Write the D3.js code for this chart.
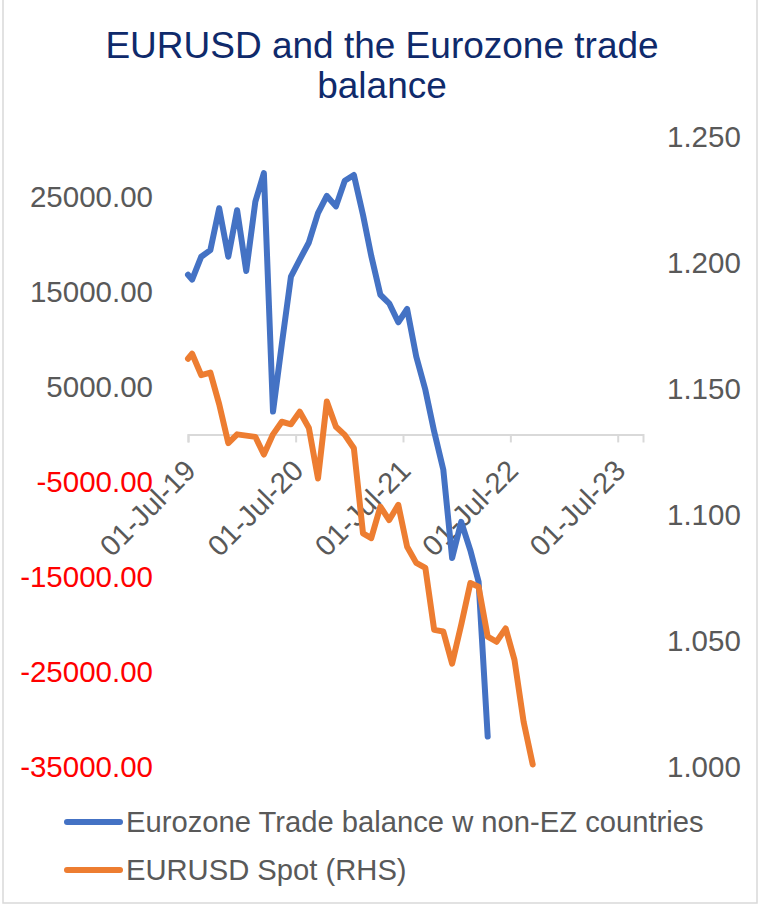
<!DOCTYPE html>
<html>
<head>
<meta charset="utf-8">
<script src="https://cdn.jsdelivr.net/npm/d3@7"></script>
<style>
  body { margin: 0; background: #fff; }
  svg { display: block; font-family: "Liberation Sans", Arial, sans-serif; }
</style>
</head>
<body>
<div id="chart"></div>
<script>
// dates of the observations (mid-month releases)
const dates = [
  "2019-07-01", "2019-07-15", "2019-08-15", "2019-09-15", "2019-10-15", "2019-11-15", "2019-12-15",
  "2020-01-15", "2020-02-15", "2020-03-15", "2020-04-15", "2020-05-15", "2020-06-15",
  "2020-07-15", "2020-08-15", "2020-09-15", "2020-10-15", "2020-11-15", "2020-12-15",
  "2021-01-15", "2021-02-15", "2021-03-15", "2021-04-15", "2021-05-15", "2021-06-15",
  "2021-07-15", "2021-08-15", "2021-09-15", "2021-10-15", "2021-11-15", "2021-12-15",
  "2022-01-15", "2022-02-15", "2022-03-15", "2022-04-15", "2022-05-15", "2022-06-15",
  "2022-07-15", "2022-08-15", "2022-09-15"
];

// Eurozone trade balance w non-EZ countries (left axis)
const tradeBalance = [
  16800, 16300, 18700, 19400, 23800, 18700, 23600,
  17200, 24500, 27500, 2400, 9500, 16600,
  18400, 20200, 23300, 25100, 24000, 26700,
  27300, 23100, 18800, 14700, 13800, 11800,
  13200, 8200, 4700, 300, -3700, -13000,
  -9200, -12200, -15500, -31800
];

// EURUSD spot (right axis)
const eurusd = [
  1.162, 1.164, 1.1555, 1.1565, 1.144, 1.1285, 1.132,
  1.1315, 1.131, 1.124, 1.132, 1.137, 1.136,
  1.141, 1.1345, 1.1145, 1.145, 1.135, 1.1318,
  1.1265, 1.0927, 1.0908, 1.1033, 1.098, 1.104,
  1.0874, 1.081, 1.079, 1.0544, 1.0538, 1.041,
  1.0565, 1.073, 1.0715, 1.0517, 1.0497, 1.055,
  1.0425, 1.018, 1.001
];

const xTicks = ["2019-07-01", "2020-07-01", "2021-07-01", "2022-07-01", "2023-07-01"];
const leftTicks = [25000, 15000, 5000, -5000, -15000, -25000, -35000];
const rightTicks = [1.25, 1.2, 1.15, 1.1, 1.05, 1.0];
const seriesNames = ["Eurozone Trade balance w non-EZ countries", "EURUSD Spot (RHS)"];
const colors = ["#4472C4", "#ED7D31"];

const width = 761;
const height = 906;
const parse = d3.timeParse("%Y-%m-%d");
const fmtDate = d3.timeFormat("%d-%b-%y");
// format Excel : tiret simple au lieu du signe moins unicode
const fmtLeft = (d) => d3.format(".2f")(d).replace("\u2212", "-");

const svg = d3.select("#chart").append("svg")
  .attr("width", width)
  .attr("height", height);

// cadre gris
svg.append("rect")
  .attr("x", 3).attr("y", -2)
  .attr("width", 754).attr("height", 905)
  .attr("fill", "#fff")
  .attr("stroke", "#d9d9d9")
  .attr("stroke-width", 1.5);

// titre
svg.append("text")
  .attr("text-anchor", "middle")
  .attr("fill", "#0f2a6b")
  .style("font-size", "37px")
  .selectAll("tspan")
  .data(["EURUSD and the Eurozone trade", "balance"])
  .join("tspan")
  .attr("x", 382)
  .attr("y", (d, i) => 58 + i * 40)
  .text((d) => d);

const x = d3.scaleTime()
  .domain([parse("2019-07-01"), parse("2023-09-25")])
  .range([188, 643]);

const yL = d3.scaleLinear().domain([-35000, 31300]).range([767, 137]);
const yR = d3.scaleLinear().domain([1.0, 1.25]).range([767, 137]);

// axe des x sur la valeur 0
const xAxis = svg.append("g")
  .attr("transform", `translate(0,${yL(0)})`)
  .call(d3.axisBottom(x)
    .tickValues(xTicks.map(parse))
    .tickFormat(fmtDate)
    .tickSizeOuter(0)
    .tickSize(8));
xAxis.select(".domain").attr("stroke", "#d9d9d9").attr("stroke-width", 2);
xAxis.selectAll(".tick line").attr("stroke", "#d9d9d9").attr("stroke-width", 2);
xAxis.selectAll(".tick text")
  .attr("fill", "#595959")
  .style("font-size", "29px")
  .attr("text-anchor", "end")
  .attr("dy", null)
  .attr("y", 0)
  .attr("transform", "translate(9,38) rotate(-45)");

// axe gauche
const left = svg.append("g")
  .attr("transform", "translate(153,0)")
  .call(d3.axisLeft(yL).tickValues(leftTicks).tickFormat(fmtLeft).tickSize(0));
left.select(".domain").remove();
left.selectAll(".tick text")
  .style("font-size", "29.5px")
  .attr("x", 0)
  .attr("fill", (d) => (d < 0 ? "#ff0000" : "#595959"));

// axe droit
const right = svg.append("g")
  .attr("transform", "translate(667,0)")
  .call(d3.axisRight(yR).tickValues(rightTicks).tickFormat(d3.format(".3f")).tickSize(0));
right.select(".domain").remove();
right.selectAll(".tick text")
  .style("font-size", "29.5px")
  .attr("x", 0)
  .attr("fill", "#595959");

const lineL = d3.line()
  .x((d, i) => x(parse(dates[i])))
  .y((d) => yL(d));
const lineR = d3.line()
  .x((d, i) => x(parse(dates[i])))
  .y((d) => yR(d));

svg.append("path")
  .attr("d", lineL(tradeBalance))
  .attr("fill", "none")
  .attr("stroke", colors[0])
  .attr("stroke-width", 6)
  .attr("stroke-linejoin", "round")
  .attr("stroke-linecap", "round");

svg.append("path")
  .attr("d", lineR(eurusd))
  .attr("fill", "none")
  .attr("stroke", colors[1])
  .attr("stroke-width", 6)
  .attr("stroke-linejoin", "round")
  .attr("stroke-linecap", "round");

// légende
const legend = svg.append("g")
  .selectAll("g")
  .data(seriesNames)
  .join("g")
  .attr("transform", (d, i) => `translate(0,${822 + i * 48})`);
legend.append("line")
  .attr("x1", 67).attr("x2", 120)
  .attr("stroke", (d, i) => colors[i])
  .attr("stroke-width", 6)
  .attr("stroke-linecap", "round");
legend.append("text")
  .attr("x", 126)
  .attr("dy", "0.35em")
  .attr("fill", "#595959")
  .style("font-size", "29.2px")
  .text((d) => d);
</script>
</body>
</html>
